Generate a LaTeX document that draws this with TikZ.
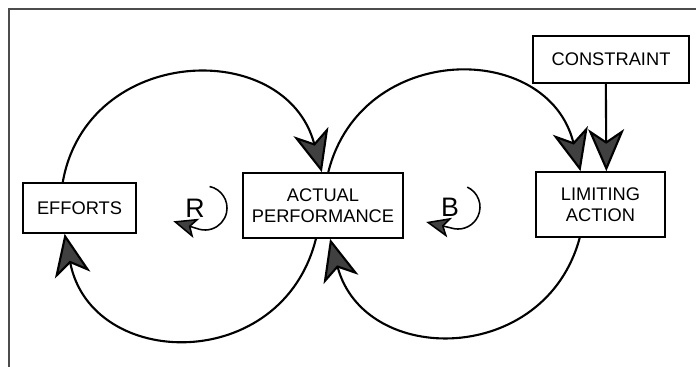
\documentclass[tikz,border=0pt]{standalone}
\usepackage{fontspec}
\setmainfont{Liberation Sans}
\usetikzlibrary{arrows.meta}
\tikzset{
  box/.style={draw, line width=1.1pt, inner sep=0pt, align=center, minimum height=1.625cm, font=\fontsize{13}{15}\selectfont},
  loopname/.style={inner sep=0pt, font=\fontsize{19}{20}\selectfont},
  big/.style={-{Stealth[length=1.05cm,width=0.9cm,inset=0.3cm,fill=black!75]}, line width=1.5pt},
  small/.style={-{Stealth[length=0.6cm,width=0.5cm,inset=0.15cm,fill=black!75]}, line width=1.1pt},
}

\begin{document}
\begin{tikzpicture}[x=0.025cm,y=0.025cm]
  \useasboundingbox (0,0) rectangle (696,-367);
  \draw[black!70, line width=1.2pt] (9,-367) -- (9,-9) -- (696,-9);
  \node[box, minimum width=2.825cm, minimum height=1.25cm] (eff) at (79.5,-208) {EFFORTS};
  \node[box, minimum width=4cm] (act) at (323,-205.5) {ACTUAL\\PERFORMANCE};
  \node[box, minimum width=3.225cm] (lim) at (600.5,-204.5) {LIMITING\\ACTION};
  \node[box, minimum width=3.9cm, minimum height=1.175cm] (con) at (611,-59.5) {CONSTRAINT};
  \node[loopname] (R) at (195,-208) {R};
  \node[loopname] (B) at (450,-207) {B};
  \path[big]
    (eff.123) edge[out=80,in=105,looseness=1.38] (act.92)
    (act.258) edge[out=-104,in=281,looseness=1.42] (eff.240)
    (act.81) edge[out=76,in=104,looseness=1.37] (lim.121)
    (lim.238) edge[out=-105,in=285,looseness=1.36] (act.282)
    (con.258) edge (lim.80);
  \draw[small] (R) ++(14.6,21.5) arc[start angle=78,end angle=-105,radius=22] -- ++(-26,8);
  \draw[small] (B) ++(17.3,19.9) arc[start angle=65,end angle=-100,radius=22] -- ++(-28,6.7);
\end{tikzpicture}
\end{document}
